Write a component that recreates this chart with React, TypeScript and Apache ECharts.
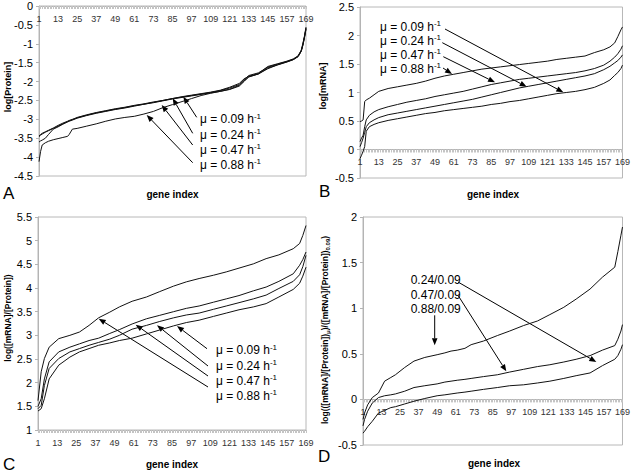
import React, { useEffect, useRef } from "react";
import * as echarts from "echarts";

// ---------------- data ----------------
const GENE_COUNT = 169;
const GROWTH_RATES = ["0.09", "0.24", "0.47", "0.88"];
const RATIO_LABELS = ["0.24/0.09", "0.47/0.09", "0.88/0.09"];

// Panel A : log[Protein]
const GENES_A = [1, 2, 3, 5, 7, 10, 13, 16, 19, 20, 22, 25, 31, 37, 43, 49, 55, 61, 67, 73, 79, 85, 91, 97, 103, 109, 115, 121, 127, 130, 133, 139, 145, 151, 157, 161, 164, 166, 167, 168, 169];
const PROT_009 = [-3.46, -3.42, -3.39, -3.34, -3.3, -3.24, -3.18, -3.12, -3.07, -3.05, -3.02, -2.97, -2.9, -2.84, -2.79, -2.74, -2.7, -2.65, -2.6, -2.56, -2.51, -2.46, -2.42, -2.38, -2.34, -2.3, -2.26, -2.21, -2.12, -2.0, -1.87, -1.8, -1.66, -1.56, -1.48, -1.42, -1.34, -1.2, -1.05, -0.85, -0.6];
const PROT_024 = [-3.44, -3.4, -3.37, -3.33, -3.29, -3.23, -3.16, -3.1, -3.05, -3.03, -3.0, -2.96, -2.89, -2.83, -2.78, -2.73, -2.69, -2.64, -2.6, -2.55, -2.5, -2.45, -2.41, -2.37, -2.33, -2.29, -2.24, -2.17, -2.08, -1.95, -1.84, -1.77, -1.62, -1.54, -1.47, -1.41, -1.33, -1.18, -1.02, -0.82, -0.58];
const PROT_047 = [-3.6, -3.57, -3.55, -3.5, -3.4, -3.26, -3.2, -3.13, -3.06, -3.04, -3.01, -2.95, -2.88, -2.82, -2.77, -2.72, -2.68, -2.63, -2.59, -2.54, -2.5, -2.45, -2.4, -2.36, -2.32, -2.28, -2.23, -2.15, -2.05, -1.93, -1.86, -1.79, -1.6, -1.53, -1.46, -1.4, -1.32, -1.17, -1.0, -0.8, -0.56];
const PROT_088 = [-4.12, -3.85, -3.68, -3.62, -3.58, -3.54, -3.51, -3.48, -3.45, -3.4, -3.26, -3.24, -3.18, -3.12, -3.05, -2.99, -2.95, -2.92, -2.86, -2.79, -2.69, -2.61, -2.53, -2.45, -2.37, -2.31, -2.26, -2.2, -2.1, -1.98, -1.88, -1.8, -1.64, -1.56, -1.48, -1.42, -1.34, -1.2, -1.04, -0.84, -0.62];

// Panel B : log[mRNA]
const GENES_B = [1, 2, 3, 4, 5, 7, 10, 13, 19, 25, 31, 37, 43, 49, 55, 61, 67, 73, 79, 85, 91, 97, 103, 109, 115, 121, 127, 133, 139, 145, 151, 157, 161, 164, 166, 168, 169];
const MRNA_009 = [-0.16, -0.1, -0.03, 0.05, 0.32, 0.4, 0.44, 0.47, 0.51, 0.54, 0.57, 0.6, 0.63, 0.65, 0.68, 0.7, 0.72, 0.74, 0.76, 0.79, 0.81, 0.84, 0.86, 0.89, 0.92, 0.95, 0.98, 1.0, 1.02, 1.05, 1.09, 1.16, 1.22, 1.3, 1.35, 1.42, 1.48];
const MRNA_024 = [0.05, 0.12, 0.2, 0.3, 0.4, 0.47, 0.52, 0.56, 0.61, 0.64, 0.67, 0.7, 0.73, 0.76, 0.79, 0.82, 0.85, 0.88, 0.92, 0.96, 1.0, 1.04, 1.08, 1.11, 1.14, 1.17, 1.2, 1.23, 1.26, 1.29, 1.33, 1.4, 1.46, 1.52, 1.56, 1.62, 1.66];
const MRNA_047 = [0.14, 0.2, 0.25, 0.4, 0.52, 0.6, 0.66, 0.7, 0.75, 0.79, 0.83, 0.86, 0.89, 0.93, 0.96, 0.99, 1.02, 1.06, 1.1, 1.14, 1.17, 1.2, 1.23, 1.25, 1.27, 1.29, 1.31, 1.33, 1.35, 1.38, 1.42, 1.48, 1.55, 1.62, 1.68, 1.76, 1.82];
const MRNA_088 = [0.49, 0.5, 0.52, 0.84, 0.87, 0.9, 0.96, 1.02, 1.07, 1.1, 1.13, 1.16, 1.2, 1.25, 1.29, 1.32, 1.35, 1.38, 1.41, 1.43, 1.45, 1.47, 1.49, 1.51, 1.53, 1.55, 1.58, 1.6, 1.62, 1.64, 1.7, 1.75, 1.8, 1.87, 1.98, 2.1, 2.15];

// Panel C : log([mRNA]/[Protein])
const GENES_C = [1, 3, 5, 8, 14, 21, 27, 33, 39, 46, 52, 60, 69, 77, 86, 94, 102, 111, 119, 127, 136, 144, 152, 161, 165, 167, 169];
const RATIO_009 = [1.4, 1.45, 1.66, 2.08, 2.37, 2.54, 2.65, 2.72, 2.79, 2.84, 2.89, 2.94, 3.03, 3.11, 3.2, 3.27, 3.32, 3.4, 3.47, 3.54, 3.6, 3.67, 3.81, 3.97, 4.1, 4.25, 4.44];
const RATIO_024 = [1.45, 1.52, 1.94, 2.3, 2.51, 2.65, 2.72, 2.79, 2.85, 2.92, 3.0, 3.13, 3.21, 3.29, 3.37, 3.43, 3.47, 3.55, 3.62, 3.69, 3.77, 3.85, 3.99, 4.14, 4.28, 4.45, 4.69];
const RATIO_047 = [1.5, 1.66, 2.08, 2.44, 2.65, 2.75, 2.82, 2.89, 2.94, 3.04, 3.12, 3.24, 3.35, 3.42, 3.5, 3.57, 3.62, 3.7, 3.77, 3.84, 3.94, 4.02, 4.14, 4.3, 4.48, 4.6, 4.76];
const RATIO_088 = [1.62, 2.23, 2.51, 2.75, 2.93, 3.0, 3.07, 3.21, 3.37, 3.49, 3.6, 3.72, 3.81, 3.92, 4.04, 4.13, 4.2, 4.27, 4.34, 4.42, 4.51, 4.62, 4.7, 4.83, 4.94, 5.11, 5.32];

// Panel D : log(ratio_mu / ratio_0.09)
const GENES_D = [1, 2, 4, 7, 11, 15, 19, 22, 28, 34, 41, 49, 54, 58, 62, 67, 71, 79, 88, 96, 105, 114, 122, 131, 139, 148, 156, 164, 166, 168, 169];
const REL_024 = [-0.37, -0.35, -0.3, -0.24, -0.15, -0.12, -0.09, -0.08, -0.05, -0.02, 0.01, 0.04, 0.05, 0.06, 0.07, 0.08, 0.09, 0.11, 0.13, 0.15, 0.16, 0.18, 0.2, 0.23, 0.26, 0.29, 0.37, 0.44, 0.48, 0.55, 0.6];
const REL_047 = [-0.29, -0.22, -0.13, -0.04, 0.02, 0.04, 0.05, 0.06, 0.09, 0.13, 0.15, 0.17, 0.19, 0.2, 0.21, 0.22, 0.23, 0.25, 0.27, 0.3, 0.33, 0.36, 0.38, 0.41, 0.44, 0.48, 0.54, 0.59, 0.66, 0.75, 0.82];
const REL_088 = [-0.22, -0.15, -0.06, 0.02, 0.07, 0.2, 0.24, 0.27, 0.35, 0.42, 0.46, 0.49, 0.51, 0.53, 0.54, 0.56, 0.6, 0.64, 0.7, 0.75, 0.81, 0.86, 0.93, 1.01, 1.1, 1.21, 1.34, 1.45, 1.62, 1.8, 1.89];

// ---------------- helpers ----------------
const FONT = 'Arial, "Liberation Sans", sans-serif';
const NARROW = '"Liberation Sans Narrow", "Arial Narrow", Arial, "Liberation Sans", sans-serif';
const CATEGORIES = Array.from({ length: GENE_COUNT }, (_, i) => String(i + 1));

const GRIDS = [
  { left: 39, top: 6, width: 267, height: 170 },
  { left: 360, top: 7, width: 265, height: 171 },
  { left: 38, top: 217, width: 268, height: 213 },
  { left: 363, top: 217, width: 263, height: 228 },
];
const Y_RANGES = [
  [-4.5, 0],
  [-0.5, 2.5],
  [1, 5.5],
  [-0.5, 2],
];

function pairs(genes: number[], vals: number[]) {
  return genes.map((g, k) => [g - 1, vals[k]]);
}

function lineSeries(idx: number, name: string, genes: number[], vals: number[]) {
  return {
    type: "line",
    name,
    xAxisIndex: idx,
    yAxisIndex: idx,
    data: pairs(genes, vals),
    showSymbol: false,
    symbol: "none",
    lineStyle: { color: "#111", width: 1 },
    silent: true,
  };
}

function arrow(x1: number, y1: number, x2: number, y2: number) {
  const dx = x2 - x1, dy = y2 - y1;
  const L = Math.hypot(dx, dy);
  const ux = dx / L, uy = dy / L;
  const head = 7, half = 2.8;
  const bx = x2 - ux * head, by = y2 - uy * head;
  const px = -uy, py = ux;
  return [
    { type: "line", silent: true, shape: { x1, y1, x2: bx, y2: by }, style: { stroke: "#000", lineWidth: 1 } },
    {
      type: "polygon", silent: true,
      shape: { points: [[x2, y2], [bx + px * half, by + py * half], [bx - px * half, by - py * half]] },
      style: { fill: "#000" },
    },
  ];
}

function muLabel(x: number, y: number, rate: string) {
  return {
    type: "text", x, y, silent: true,
    style: {
      text: `{n|μ = ${rate} h}{s|-1}`,
      verticalAlign: "middle",
      align: "left",
      rich: {
        n: { fontSize: 12, fontFamily: FONT, fill: "#000", lineHeight: 14 },
        s: { fontSize: 8, fontFamily: FONT, fill: "#000", lineHeight: 8, verticalAlign: "top" },
      },
    },
  };
}

function plainText(x: number, y: number, text: string, size: number, weight: string, align = "center", rotation = 0) {
  return {
    type: "text", x, y, rotation, silent: true,
    style: { text, fontSize: size, fontWeight: weight, fontFamily: FONT, fill: "#000", align, verticalAlign: "middle" },
  };
}

export default function App() {
  const ref = useRef<HTMLDivElement>(null);

  useEffect(() => {
    if (!ref.current) return;
    const chart = echarts.init(ref.current, undefined, { renderer: "svg" });

    const xAxes = GRIDS.map((g, i) => {
      const [mn, mx] = Y_RANGES[i];
      const zeroInside = mn < 0 && mx > 0;
      const atTop = mx === 0;
      const offset = zeroInside ? -g.height * (0 - mn) / (mx - mn) : 0;
      return {
        type: "category",
        gridIndex: i,
        data: CATEGORIES,
        boundaryGap: false,
        position: atTop ? "top" : "bottom",
        offset,
        axisLine: { show: true, onZero: false, lineStyle: { color: "#b4b4b4", width: 1 } },
        axisTick: { show: true, interval: 0, length: 3, inside: atTop, lineStyle: { color: "#c4c4c4" } },
        axisLabel: { interval: 11, fontSize: 9, color: "#333", margin: 8, inside: atTop, fontFamily: NARROW },
        splitLine: { show: false },
      };
    });

    const yAxes = GRIDS.map((_, i) => ({
      type: "value",
      gridIndex: i,
      min: Y_RANGES[i][0],
      max: Y_RANGES[i][1],
      interval: 0.5,
      axisLine: { show: true, lineStyle: { color: "#b4b4b4" } },
      axisTick: { show: true, length: 3, lineStyle: { color: "#b4b4b4" } },
      axisLabel: { fontSize: 11, color: "#000", margin: 6, fontFamily: FONT },
      splitLine: { show: false },
    }));

    const series = [
      lineSeries(0, "μ = 0.09", GENES_A, PROT_009),
      lineSeries(0, "μ = 0.24", GENES_A, PROT_024),
      lineSeries(0, "μ = 0.47", GENES_A, PROT_047),
      lineSeries(0, "μ = 0.88", GENES_A, PROT_088),
      lineSeries(1, "μ = 0.09", GENES_B, MRNA_009),
      lineSeries(1, "μ = 0.24", GENES_B, MRNA_024),
      lineSeries(1, "μ = 0.47", GENES_B, MRNA_047),
      lineSeries(1, "μ = 0.88", GENES_B, MRNA_088),
      lineSeries(2, "μ = 0.09", GENES_C, RATIO_009),
      lineSeries(2, "μ = 0.24", GENES_C, RATIO_024),
      lineSeries(2, "μ = 0.47", GENES_C, RATIO_047),
      lineSeries(2, "μ = 0.88", GENES_C, RATIO_088),
      lineSeries(3, "0.24/0.09", GENES_D, REL_024),
      lineSeries(3, "0.47/0.09", GENES_D, REL_047),
      lineSeries(3, "0.88/0.09", GENES_D, REL_088),
    ];

    const graphics: any[] = [];
    // panel A annotations
    const aY = [119, 134.5, 149.5, 164.5];
    GROWTH_RATES.forEach((r, k) => graphics.push(muLabel(200, aY[k], r)));
    graphics.push(...arrow(196.7, 117.3, 183.3, 96.7));
    graphics.push(...arrow(192.7, 133.3, 172.7, 98.3));
    graphics.push(...arrow(192.7, 145, 161.7, 105));
    graphics.push(...arrow(192.7, 162.7, 146.7, 115));
    // panel B annotations
    const bY = [26.7, 40.7, 54.7, 68.7];
    GROWTH_RATES.forEach((r, k) => graphics.push(muLabel(380, bY[k], r)));
    graphics.push(...arrow(445, 29, 563.3, 92.3));
    graphics.push(...arrow(442.3, 42.7, 526.7, 86.7));
    graphics.push(...arrow(443.3, 56.7, 495, 82.3));
    graphics.push(...arrow(443, 68, 452, 74));
    // panel C annotations
    const cY = [350.3, 365.5, 380.5, 395.5];
    GROWTH_RATES.forEach((r, k) => graphics.push(muLabel(216, cY[k], r)));
    graphics.push(...arrow(207, 348.7, 177, 326));
    graphics.push(...arrow(208, 366, 157, 325.3));
    graphics.push(...arrow(208, 376, 135.7, 324.7));
    graphics.push(...arrow(208, 387, 98.7, 318.7));
    // panel D annotations
    const dY = [280.3, 294.5, 309.3];
    RATIO_LABELS.forEach((r, k) => graphics.push(plainText(410.7, dY[k], r, 12, "normal", "left")));
    graphics.push(...arrow(458, 282, 596.3, 362));
    graphics.push(...arrow(458, 295.3, 506.3, 371.3));
    graphics.push(...arrow(434.7, 315.3, 434.7, 345.3));

    // axis titles and panel letters
    graphics.push(plainText(172.5, 194, "gene index", 10, "bold"));
    graphics.push(plainText(493, 194, "gene index", 10, "bold"));
    graphics.push(plainText(172, 464, "gene index", 10, "bold"));
    graphics.push(plainText(494, 463, "gene index", 10, "bold"));
    graphics.push(plainText(3, 193, "A", 17, "normal", "left"));
    graphics.push(plainText(319, 191, "B", 17, "normal", "left"));
    graphics.push(plainText(3, 464, "C", 17, "normal", "left"));
    graphics.push(plainText(318, 456, "D", 17, "normal", "left"));
    graphics.push(plainText(8, 87, "log[Protein]", 9, "bold", "center", Math.PI / 2));
    graphics.push(plainText(323, 86, "log[mRNA]", 9, "bold", "center", Math.PI / 2));
    graphics.push(plainText(8, 318, "log([mRNA]/[Protein])", 8.5, "bold", "center", Math.PI / 2));
    graphics.push({
      type: "text", x: 325, y: 330, rotation: Math.PI / 2, silent: true,
      style: {
        text: "{b|log(([mRNA]/[Protein])}{s|μ}{b|)/([mRNA]/[Protein])}{s|0.09}{b|)}",
        align: "center",
        verticalAlign: "middle",
        rich: {
          b: { fontSize: 8.5, fontWeight: "bold", fontFamily: FONT, fill: "#000", lineHeight: 12 },
          s: { fontSize: 6, fontWeight: "bold", fontFamily: FONT, fill: "#000", lineHeight: 6, verticalAlign: "bottom" },
        },
      },
    });

    chart.setOption({
      animation: false,
      backgroundColor: "#fff",
      grid: GRIDS.map((g) => ({ ...g, show: true, borderColor: "#b8b8b8", borderWidth: 1, backgroundColor: "transparent", containLabel: false })),
      xAxis: xAxes,
      yAxis: yAxes,
      series,
      graphic: { elements: graphics },
    });

    return () => chart.dispose();
  }, []);

  return (
    <div
      ref={ref}
      style={{ position: "absolute", left: 0, top: 0, width: 633, height: 476, background: "#fff" }}
    />
  );
}
